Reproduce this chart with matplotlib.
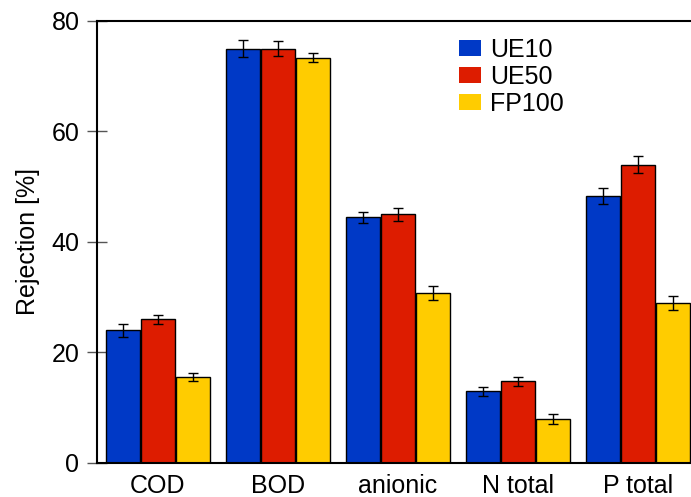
import matplotlib
matplotlib.use('Agg')
import matplotlib.pyplot as plt
import numpy as np

plt.rcParams['font.family'] = ['Liberation Sans', 'DejaVu Sans']

categories = ['COD', 'BOD', 'anionic', 'N total', 'P total']
series = ['UE10', 'UE50', 'FP100']
ue10 = [24.0, 75.0, 44.5, 13.0, 48.3]
ue50 = [26.0, 75.0, 45.0, 14.8, 54.0]
fp100 = [15.5, 73.3, 30.7, 7.9, 29.0]
ue10_err = [1.2, 1.5, 1.0, 0.8, 1.5]
ue50_err = [0.8, 1.4, 1.2, 0.8, 1.6]
fp100_err = [0.7, 0.8, 1.3, 0.9, 1.3]

colors = ['#0039c6', '#dd1c00', '#ffcc00']

fig = plt.figure(figsize=(6.91, 4.97), dpi=100)
ax = fig.add_axes([0.141, 0.0685, 0.869, 0.8895])

x = np.arange(len(categories))
w = 0.28
offs = [-0.29, 0.0, 0.29]
for vals, errs, off, c, name in zip([ue10, ue50, fp100], [ue10_err, ue50_err, fp100_err], offs, colors, series):
    ax.bar(x + off, vals, w, color=c, edgecolor='black', linewidth=1.0, label=name, zorder=2)
    ax.errorbar(x + off, vals, yerr=errs, fmt='none', ecolor='black', elinewidth=1.0,
                capsize=3.5, capthick=1.0, zorder=3)

ax.set_xlim(-0.504, 4.5)
ax.set_ylim(0, 80)
ax.set_yticks([0, 20, 40, 60, 80])
ax.set_xticks(x)
ax.set_xticklabels(categories)
ax.tick_params(axis='y', direction='inout', length=14, width=1, labelsize=18, pad=6,
               colors='#555555', labelcolor='black')
ax.tick_params(axis='x', length=0, labelsize=18, pad=8)
ax.set_ylabel('Rejection [%]', fontsize=18, labelpad=8)
for s in ax.spines.values():
    s.set_linewidth(1.5)

leg = ax.legend(loc='upper left', bbox_to_anchor=(0.585, 0.985), frameon=False, fontsize=18,
                handlelength=0.9, handleheight=0.6, handletextpad=0.35, labelspacing=0.12,
                borderaxespad=0)
for h in leg.legend_handles:
    h.set_edgecolor('none')

fig.savefig('out.png', dpi=100)
